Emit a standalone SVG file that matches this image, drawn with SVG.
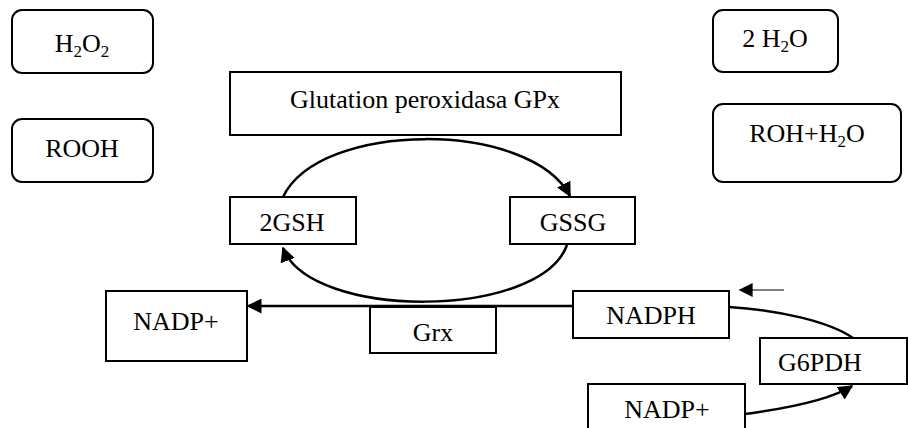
<svg xmlns="http://www.w3.org/2000/svg" width="908" height="428" viewBox="0 0 908 428">
<style>
.b{fill:#fff;stroke:#000;stroke-width:2}
.c{fill:none;stroke:#000;stroke-width:2.5}
</style>
<defs>
<marker id="ah" viewBox="0 0 10 10" refX="9" refY="5" markerWidth="6" markerHeight="6" orient="auto" markerUnits="strokeWidth">
<path d="M0,0 L10,5 L0,10 z" fill="#000"/>
</marker>
<marker id="ah2" viewBox="0 0 10 10" refX="9" refY="5" markerWidth="15" markerHeight="14" orient="auto" markerUnits="userSpaceOnUse">
<path d="M0,0 L10,5 L0,10 z" fill="#000"/>
</marker>
</defs>
<g id="connectors">
<path class="c" d="M283,197 C320,120 530,120 570,196" marker-end="url(#ah)"/>
<path class="c" d="M567,245 C540,320 310,320 283,248" marker-end="url(#ah)"/>
<path class="c" d="M573,306 L248,306" marker-end="url(#ah)"/>
<path class="c" d="M729,307 C780,310 830,322 853,338"/>
<path class="c" d="M745,414 C790,408 830,400 852,386" marker-end="url(#ah)"/>
<path d="M784,290 L740,290" stroke="#000" stroke-width="1" fill="none" marker-end="url(#ah2)"/>
</g>
<g font-family="Liberation Serif, Times New Roman, serif" font-size="26" text-anchor="middle" fill="#000">
<g id="h2o2"><rect class="b" x="12" y="10" width="141" height="63" rx="10"/><text x="82" y="52">H<tspan font-size="17" dy="5">2</tspan><tspan dy="-5">O</tspan><tspan font-size="17" dy="5">2</tspan></text></g>
<g id="rooh"><rect class="b" x="12" y="119" width="141" height="63" rx="10"/><text x="82" y="157">ROOH</text></g>
<g id="gpx"><rect class="b" x="230" y="72" width="391" height="63"/><text x="425" y="108">Glutation peroxidasa GPx</text></g>
<g id="h2o"><rect class="b" x="713" y="10" width="125" height="62" rx="10"/><text x="775" y="47">2 H<tspan font-size="17" dy="5">2</tspan><tspan dy="-5">O</tspan></text></g>
<g id="roh"><rect class="b" x="713" y="104" width="188" height="78" rx="10"/><text x="807" y="142">ROH+H<tspan font-size="17" dy="5">2</tspan><tspan dy="-5">O</tspan></text></g>
<g id="gsh"><rect class="b" x="230" y="197" width="126" height="47"/><text x="292" y="231">2GSH</text></g>
<g id="gssg"><rect class="b" x="510" y="197" width="125" height="47"/><text x="573" y="231">GSSG</text></g>
<g id="nadp1"><rect class="b" x="106" y="291" width="141" height="70"/><text x="176" y="330">NADP+</text></g>
<g id="grx"><rect class="b" x="370" y="307" width="126" height="46"/><text x="433" y="341">Grx</text></g>
<g id="nadph"><rect class="b" x="573" y="291" width="156" height="47"/><text x="651" y="324">NADPH</text></g>
<g id="g6pdh"><rect class="b" x="760" y="338" width="147" height="46"/><text x="820" y="371">G6PDH</text></g>
<g id="nadp2"><rect class="b" x="588" y="384" width="157" height="50"/><text x="667" y="418">NADP+</text></g>
</g>
</svg>
